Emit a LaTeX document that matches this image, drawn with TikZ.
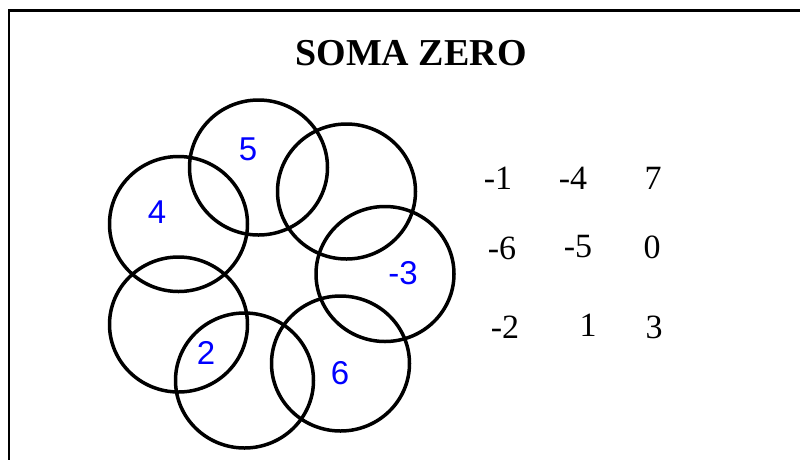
\documentclass[tikz,border=0pt]{standalone}
\usepackage{fontspec}
\setmainfont{Liberation Serif}
\newfontfamily\labsans{Liberation Sans}
\begin{document}
\begin{tikzpicture}[x=1pt,y=-1pt,
  ring/.style={line width=3.5pt,draw=black},
  lab/.style={inner sep=0pt,text=blue,font=\labsans\fontsize{33}{36}\selectfont},
  num/.style={inner sep=0pt,text=black,font=\fontsize{34}{36}\selectfont},
  ttl/.style={inner sep=0pt,font=\bfseries\fontsize{38}{42}\selectfont}]
\useasboundingbox (0,0) rectangle (800,459);
\draw[line width=2.5pt] (9,470) -- (9,10.5) -- (810,10.5);
\node[ttl] (title) at (411,53.5) {SOMA ZERO};
% rings
\draw[ring] (258.5,167.5) ellipse [x radius=69, y radius=67.5];
\draw[ring] (346.5,191.5) ellipse [x radius=69, y radius=67.5];
\draw[ring] (385,274) ellipse [x radius=69, y radius=67.5];
\draw[ring] (340.5,363.5) ellipse [x radius=69, y radius=67.5];
\draw[ring] (244.5,380.5) ellipse [x radius=69, y radius=67.5];
\draw[ring] (178.5,324.5) ellipse [x radius=69, y radius=67.5];
\draw[ring] (178.5,224) ellipse [x radius=69, y radius=67.5];
% labels
\node[lab] (l5) at (248,149) {5};
\node[lab] (l4) at (157,212) {4};
\node[lab] (lm3) at (403,273) {-3};
\node[lab] (l2) at (206,353) {2};
\node[lab] (l6) at (340,373) {6};
% numbers
\node[num] (a1) at (498,178) {-1};
\node[num] (a2) at (573,178) {-4};
\node[num] (a3) at (653,178) {7};
\node[num] (b1) at (502,248) {-6};
\node[num] (b2) at (578,247) {-5};
\node[num] (b3) at (652,247) {0};
\node[num] (c1) at (505,327) {-2};
\node[num] (c2) at (588,325) {1};
\node[num] (c3) at (654,327) {3};
\end{tikzpicture}
\end{document}
